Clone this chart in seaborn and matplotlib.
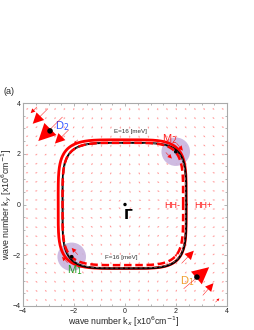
import numpy as np
import seaborn as sns
import matplotlib.pyplot as plt

# contour half-widths (left, right, top, bottom) at E=16 meV, in 1e6 cm^-1
red_solid = [2.62, 2.40, 2.55, 2.52]
red_dash = [2.45, 2.28, 2.43, 2.39]
black_solid = [2.45, 2.40, 2.43, 2.52]
black_dash = [2.43, 2.38, 2.42, 2.50]
shape_n = 4.6

# big spin-field arrows near D1 / D2 / M1 / M2 : tail x, tail y, dx, dy
arr_x = [-3.45, -3.02, -2.45, -2.20, -1.85, 1.90, 2.22, 2.30, 3.05, 3.55, 2.02, 1.60, -1.85, -2.25]
arr_y = [3.85, 3.78, 3.45, 2.95, 2.55, -2.10, -2.32, -3.32, -3.58, -3.85, 2.42, 2.05, -1.98, -2.30]
arr_u = [-0.25, -0.60, -0.95, -0.55, -0.15, 0.15, 0.48, 1.00, 0.42, 0.15, 0.25, 0.24, -0.24, -0.22]
arr_v = [-0.25, -0.60, -0.95, -0.55, -0.15, 0.15, 0.50, 0.85, 0.48, 0.15, -0.30, -0.24, 0.27, 0.24]

# background grid of the small arrows
grid_k = np.linspace(-3.8, 3.8, 22)
small_len = 0.1

# special points: Gamma, D2, D1, M1, M2
pts_x = [0.0, -2.94, 2.82, -2.09, 1.99]
pts_y = [0.0, 2.90, -2.86, -2.06, 2.08]
pts_s = [6, 16, 16, 7, 7]

sns.set_theme(style='white')
plt.rcParams['font.family'] = ['Liberation Sans', 'DejaVu Sans']

fig = plt.figure(figsize=(2.55, 3.3), dpi=100)
ax = fig.add_axes([23/255, 1-306/330, 204/255, 203/330])


def rounded(r):
    t = np.linspace(0, 2*np.pi, 721)
    c, s = np.cos(t), np.sin(t)
    x = np.sign(c)*np.abs(c)**(2/shape_n)*np.where(c >= 0, r[1], r[0])
    y = np.sign(s)*np.abs(s)**(2/shape_n)*np.where(s >= 0, r[2], r[3])
    return x, y


# background field
gx, gy = np.meshgrid(grid_k, grid_k)
norm = np.hypot(gx, gy)
ax.quiver(gx, gy, small_len*gx/norm, -small_len*gy/norm, color='#ff9a9a',
          angles='xy', scale_units='xy', scale=1, width=0.003,
          headwidth=3, headlength=3, headaxislength=2.7, zorder=1)

# purple regions around M1, M2
for cx, cy in [(-2.09, -2.06), (1.99, 2.08)]:
    ax.add_patch(plt.Circle((cx, cy), 0.56, color='#c9b4de', alpha=0.9, lw=0, zorder=2))

x, y = rounded(red_solid)
sns.lineplot(x=x, y=y, sort=False, estimator=None, color='#ff0000', lw=2.0, ax=ax, zorder=3)
x, y = rounded(black_solid)
sns.lineplot(x=x, y=y, sort=False, estimator=None, color='black', lw=1.4, ax=ax, zorder=4)
x, y = rounded(black_dash)
sns.lineplot(x=x, y=y, sort=False, estimator=None, color='#666666', lw=0.7,
             linestyle=(0, (3, 2)), ax=ax, zorder=5)
x, y = rounded(red_dash)
sns.lineplot(x=x, y=y, sort=False, estimator=None, color='#ff0000', lw=1.8,
             linestyle=(0, (3, 1.5)), ax=ax, zorder=5)

for i in range(len(arr_x)):
    L = np.hypot(arr_u[i], arr_v[i])
    ax.arrow(arr_x[i], arr_y[i], arr_u[i], arr_v[i], width=0.018, head_width=0.5*L,
             head_length=0.5*L, length_includes_head=True, color='#ff0000', lw=0, zorder=6)

ax.scatter(pts_x, pts_y, s=pts_s, color='black', zorder=7, linewidths=0)

ax.text(-2.45, 3.1, 'D$_2$', color='#3355ff', fontsize=8, ha='center', va='center')
ax.text(2.43, -3.02, 'D$_1$', color='#f0a030', fontsize=8, ha='center', va='center')
ax.text(1.75, 2.58, 'M$_2$', color='#ff2020', fontsize=8, ha='center', va='center')
ax.text(-1.95, -2.58, 'M$_1$', color='#20a020', fontsize=8, ha='center', va='center')
ax.text(0.12, -0.4, r'$\mathbf{\Gamma}$', color='black', fontsize=10, ha='center', va='center')
ax.text(1.85, -0.02, 'HH-', color='#ff2020', fontsize=6.5, ha='center', va='center')
ax.text(3.06, -0.02, 'HH+', color='#ff2020', fontsize=6.5, ha='center', va='center')
ax.text(0.2, 2.86, 'E=16 [meV]', color='#333333', fontsize=4.5, ha='center', va='center')
ax.text(-0.16, -2.1, 'F=16 [meV]', color='#333333', fontsize=4.5, ha='center', va='center')

ax.set_xlim(-4, 4)
ax.set_ylim(-4, 4)
ax.set_xticks([-4, -2, 0, 2, 4])
ax.set_yticks([-4, -2, 0, 2, 4])
ax.set_xticklabels(['\u22124', '\u22122', '0', '2', '4'])
ax.set_yticklabels(['\u22124', '\u22122', '0', '2', '4'])
ax.set_xticks(np.arange(-4, 4.01, 0.5), minor=True)
ax.set_yticks(np.arange(-4, 4.01, 0.5), minor=True)
ax.tick_params(which='both', direction='in', top=True, right=True, bottom=True, left=True,
               color='#999999', width=0.5, labelsize=5, labelcolor='#222222', pad=1.5)
ax.tick_params(which='major', length=2.5)
ax.tick_params(which='minor', length=1.5)
for sp in ax.spines.values():
    sp.set_color('#aaaaaa')
    sp.set_linewidth(0.8)

fig.text(124/255, 1-322/330, 'wave number k$_x$ [x10$^6$cm$^{-1}$]', fontsize=6.3,
         ha='center', va='center')
fig.text(7/255, 1-204/330, 'wave number k$_y$ [x10$^6$cm$^{-1}$]', fontsize=6.3,
         rotation=90, ha='center', va='center')
fig.text(0.015, 1-92/330, '(a)', fontsize=6.5, va='center')

fig.savefig('out.png', dpi=100)
